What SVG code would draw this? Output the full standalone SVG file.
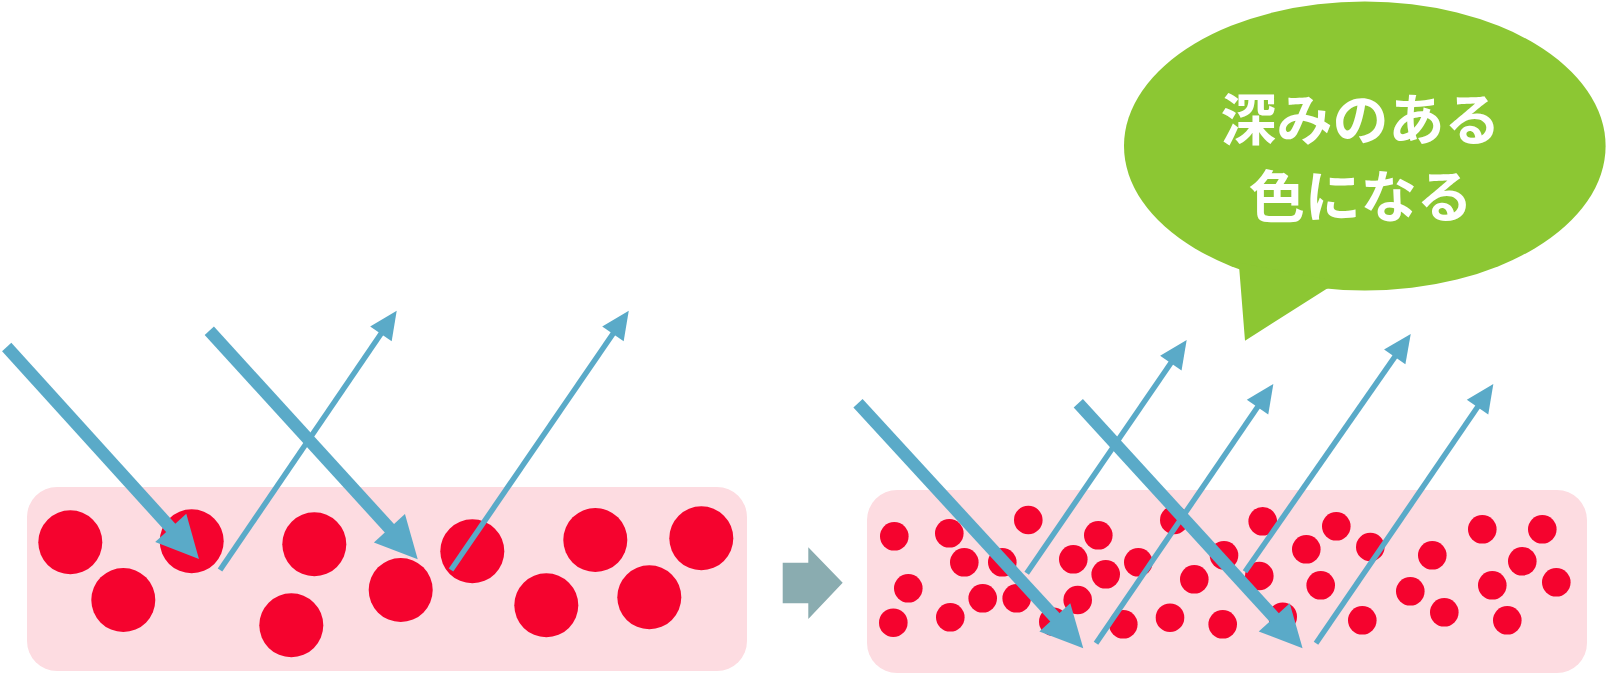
<svg xmlns="http://www.w3.org/2000/svg" width="1607" height="692" viewBox="0 0 1607 692">
  <style>
    .panel { fill: #fddce1; }
    .big { fill: #f5032e; }
    .dot { fill: #f5032e; }
    .thick { stroke: #5aaac8; stroke-width: 12.5; fill: none; marker-end: url(#headBig); }
    .thin { stroke: #5aaac8; stroke-width: 5.5; fill: none; marker-end: url(#headSmall); }
    .bubble { fill: #8cc733; }
    .label { fill: #ffffff; font-family: "Noto Sans CJK JP", "Noto Sans", sans-serif; font-weight: 700; font-size: 56px; text-anchor: middle; }
  </style>
  <defs>
    <marker id="headBig" markerUnits="userSpaceOnUse" orient="auto" refX="0" refY="0" markerWidth="50" markerHeight="50" viewBox="-2 -25 46 50" overflow="visible">
      <path d="M-1,-21 L41,0 L-1,21 Z" fill="#5aaac8"/>
    </marker>
    <marker id="headSmall" markerUnits="userSpaceOnUse" orient="auto" refX="0" refY="0" markerWidth="32" markerHeight="32" viewBox="-2 -16 32 32" overflow="visible">
      <path d="M-1,-13 L27,0 L-1,13 Z" fill="#5aaac8"/>
    </marker>
  </defs>

  <!-- Left panel -->
  <g id="panel-left">
    <rect class="panel" x="27" y="487" width="720" height="184" rx="30" ry="30"/>
    <circle class="big" cx="70.3" cy="542.3" r="32"/>
    <circle class="big" cx="123.3" cy="600" r="32"/>
    <circle class="big" cx="191.7" cy="541.3" r="32"/>
    <circle class="big" cx="314.3" cy="544.3" r="32"/>
    <circle class="big" cx="291.3" cy="625.3" r="32"/>
    <circle class="big" cx="400.7" cy="590" r="32"/>
    <circle class="big" cx="472.3" cy="551.3" r="32"/>
    <circle class="big" cx="546.3" cy="605.3" r="32"/>
    <circle class="big" cx="595.3" cy="540" r="32"/>
    <circle class="big" cx="649.3" cy="597.3" r="32"/>
    <circle class="big" cx="701.3" cy="538.3" r="32"/>
  </g>

  <!-- Middle arrow -->
  <g id="next-arrow">
    <polygon points="782.7,562.7 808.3,562.7 808.3,547.3 842.7,582.7 808.3,619 808.3,603.3 782.7,603.3" fill="#8aacb0"/>
  </g>

  <!-- Right panel -->
  <g id="panel-right">
    <rect class="panel" x="867" y="490" width="720" height="183" rx="30" ry="30"/>
    <circle class="dot" cx="894.3" cy="536.3" r="14.3"/>
    <circle class="dot" cx="949.3" cy="533.3" r="14.3"/>
    <circle class="dot" cx="1028.3" cy="520" r="14.3"/>
    <circle class="dot" cx="964.3" cy="562.3" r="14.3"/>
    <circle class="dot" cx="1002.3" cy="562.3" r="14.3"/>
    <circle class="dot" cx="908.3" cy="588.3" r="14.3"/>
    <circle class="dot" cx="982.7" cy="598.3" r="14.3"/>
    <circle class="dot" cx="1016.7" cy="598.3" r="14.3"/>
    <circle class="dot" cx="893.3" cy="622.7" r="14.3"/>
    <circle class="dot" cx="950.3" cy="617.3" r="14.3"/>
    <circle class="dot" cx="1053.3" cy="621.7" r="14.3"/>
    <circle class="dot" cx="1098.3" cy="535.3" r="14.3"/>
    <circle class="dot" cx="1073.3" cy="559.3" r="14.3"/>
    <circle class="dot" cx="1105.7" cy="574.3" r="14.3"/>
    <circle class="dot" cx="1077.7" cy="600" r="14.3"/>
    <circle class="dot" cx="1138.3" cy="562.3" r="14.3"/>
    <circle class="dot" cx="1123.3" cy="624.3" r="14.3"/>
    <circle class="dot" cx="1170" cy="617.7" r="14.3"/>
    <circle class="dot" cx="1194.3" cy="579.3" r="14.3"/>
    <circle class="dot" cx="1174.3" cy="520" r="14.3"/>
    <circle class="dot" cx="1224" cy="555.3" r="14.3"/>
    <circle class="dot" cx="1222.7" cy="624.3" r="14.3"/>
    <circle class="dot" cx="1262.7" cy="521.3" r="14.3"/>
    <circle class="dot" cx="1259.3" cy="576" r="14.3"/>
    <circle class="dot" cx="1282.7" cy="616.7" r="14.3"/>
    <circle class="dot" cx="1336.3" cy="526.3" r="14.3"/>
    <circle class="dot" cx="1306.3" cy="549.3" r="14.3"/>
    <circle class="dot" cx="1370.3" cy="547" r="14.3"/>
    <circle class="dot" cx="1320.7" cy="585.3" r="14.3"/>
    <circle class="dot" cx="1362.3" cy="620.3" r="14.3"/>
    <circle class="dot" cx="1432.3" cy="555.3" r="14.3"/>
    <circle class="dot" cx="1410.3" cy="591.3" r="14.3"/>
    <circle class="dot" cx="1444.3" cy="612.3" r="14.3"/>
    <circle class="dot" cx="1482.3" cy="529.3" r="14.3"/>
    <circle class="dot" cx="1542.3" cy="529.3" r="14.3"/>
    <circle class="dot" cx="1522.3" cy="561.3" r="14.3"/>
    <circle class="dot" cx="1492.3" cy="585.3" r="14.3"/>
    <circle class="dot" cx="1556.3" cy="582.3" r="14.3"/>
    <circle class="dot" cx="1507.3" cy="620.3" r="14.3"/>
  </g>

  <!-- Speech bubble -->
  <g id="bubble">
    <ellipse class="bubble" cx="1364.8" cy="146" rx="240.8" ry="144.5"/>
    <polygon class="bubble" points="1236,262 1239.3,269.3 1245,340.7 1326,289.3 1340,282"/>
    <text class="label" x="1360.5" y="140">深みのある</text>
    <text class="label" x="1360.8" y="216.5">色になる</text>
  </g>

  <!-- Light rays -->
  <g id="connectors">
    <line class="thick" x1="6.7" y1="347" x2="171.4" y2="528.6"/>
    <line class="thick" x1="209.3" y1="330.7" x2="390.1" y2="529"/>
    <line class="thin" x1="220" y1="570" x2="381.5" y2="333"/>
    <line class="thin" x1="451" y1="570" x2="613.5" y2="333"/>

    <line class="thick" x1="858" y1="403.3" x2="1055.5" y2="618.1"/>
    <line class="thick" x1="1078.3" y1="403.3" x2="1274.9" y2="618.1"/>
    <line class="thin" x1="1026.7" y1="573.3" x2="1171.4" y2="362.3"/>
    <line class="thin" x1="1096" y1="643.3" x2="1258.1" y2="406.3"/>
    <line class="thin" x1="1245" y1="571.7" x2="1395.3" y2="356.1"/>
    <line class="thin" x1="1316" y1="643.3" x2="1478.1" y2="406.3"/>
  </g>
</svg>
